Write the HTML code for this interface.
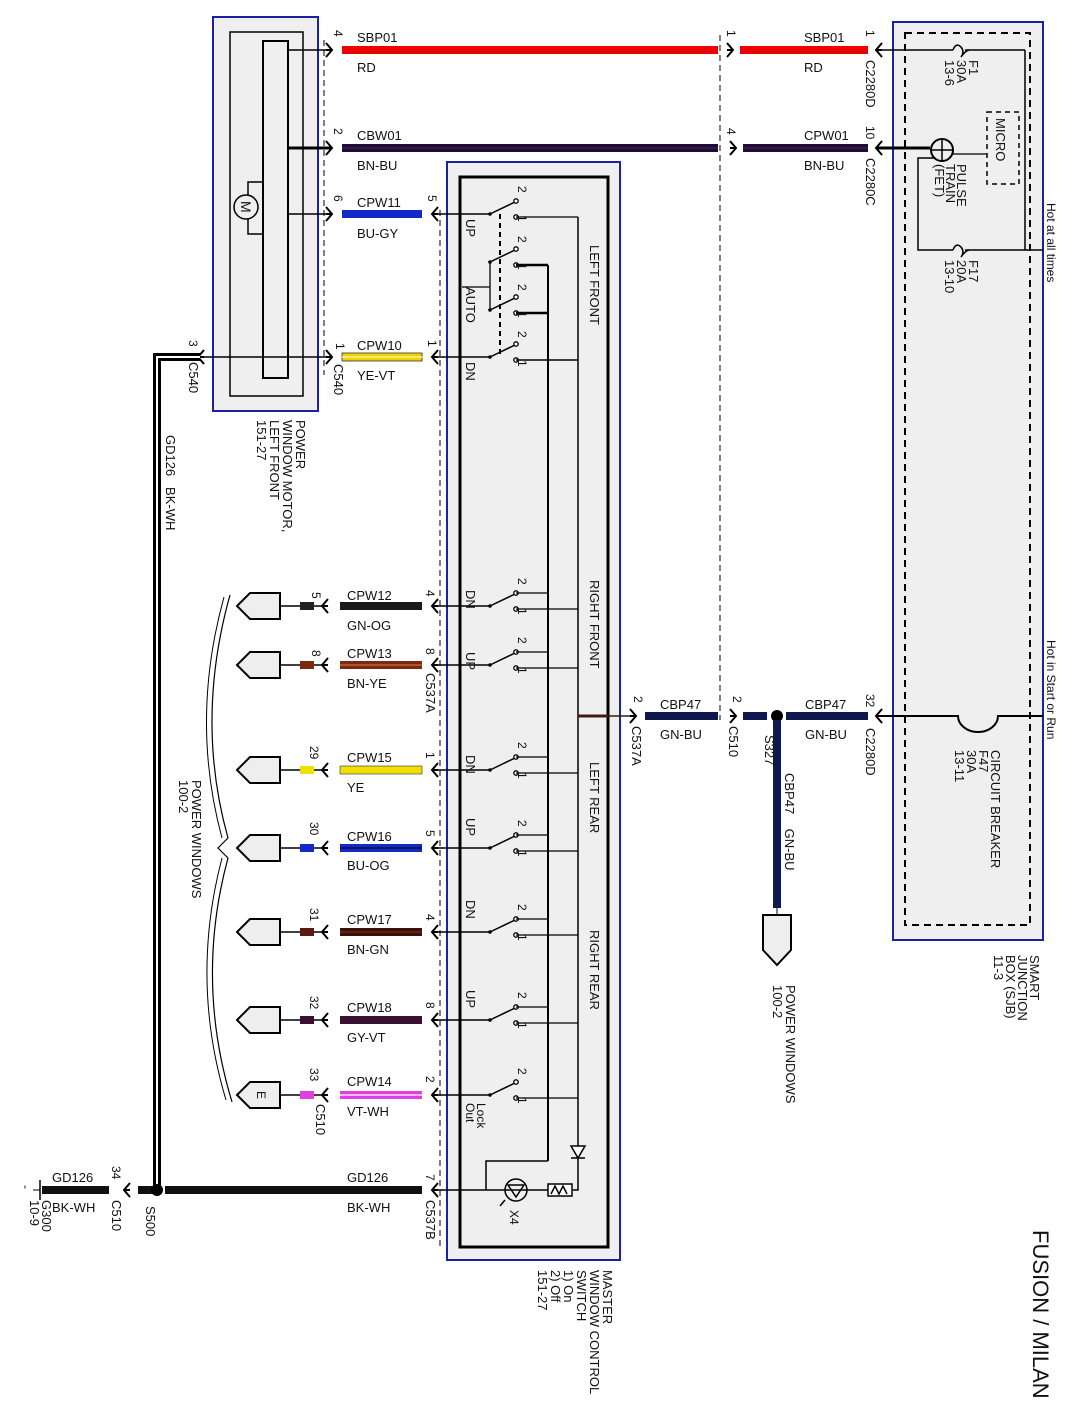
<!DOCTYPE html>
<html><head><meta charset="utf-8"><style>
html,body{margin:0;padding:0;background:#fff}
svg{display:block}
text{font-family:"Liberation Sans",sans-serif;font-size:13px;fill:#111}
.s{font-size:12px}
.m{font-size:13px}
</style></head><body>
<svg width="1075" height="1427" viewBox="0 0 1075 1427" xmlns="http://www.w3.org/2000/svg">
<defs>
<path id="ar" d="M-6,-7 L0,0 L-6,7 M-6,0 L0,0" fill="none" stroke="#000" stroke-width="2"/>
<path id="al" d="M6,-7 L0,0 L6,7 M6,0 L0,0" fill="none" stroke="#000" stroke-width="2"/>
<g id="sw">
<line x1="0" y1="0" x2="25" y2="-12" stroke="#000" stroke-width="1.5"/>
<circle cx="0" cy="0" r="1.8" fill="#000"/>
<circle cx="26" cy="-13" r="2.2" fill="#fff" stroke="#000" stroke-width="1.3"/>
<circle cx="26" cy="3" r="2.2" fill="#fff" stroke="#000" stroke-width="1.3"/>
</g>
<path id="pent" d="M0,0 L13,-13 L43,-13 L43,13 L13,13 Z" fill="#eee" stroke="#000" stroke-width="2"/>
</defs>

<!-- Motor block -->
<rect x="213" y="17" width="105" height="394" fill="#efefef" stroke="#1a22a0" stroke-width="2"/>
<rect x="230" y="32" width="73" height="364" fill="none" stroke="#000" stroke-width="1.5"/>
<rect x="263" y="41" width="25" height="337" fill="#efefef" stroke="#000" stroke-width="2"/>
<path d="M263,182 L248,182 L248,234 L263,234" fill="none" stroke="#000" stroke-width="1.5"/>
<circle cx="246" cy="207" r="12" fill="#efefef" stroke="#000" stroke-width="1.5"/>
<text transform="translate(241,201) rotate(90)" style="font-size:14px">M</text>

<!-- SJB -->
<rect x="893" y="22" width="150" height="918" fill="#efefef" stroke="#1a22a0" stroke-width="2"/>
<rect x="905" y="33" width="125" height="892" fill="none" stroke="#000" stroke-width="2" stroke-dasharray="7,5"/>
<rect x="987" y="112" width="32" height="72" fill="none" stroke="#000" stroke-width="1.5" stroke-dasharray="5,4"/>
<text transform="translate(996,118) rotate(90)">MICRO</text>

<!-- dashed connector lines -->
<line x1="324" y1="40" x2="324" y2="375" stroke="#000" stroke-dasharray="6,4"/>
<line x1="720" y1="35" x2="720" y2="720" stroke="#000" stroke-dasharray="6,4"/>
<line x1="440" y1="210" x2="440" y2="1250" stroke="#000" stroke-dasharray="6,4"/>

<!-- Switch block -->
<rect x="447" y="162" width="173" height="1098" fill="#efefef" stroke="#1a22a0" stroke-width="2"/>
<rect x="460" y="177" width="148" height="1070" fill="none" stroke="#000" stroke-width="3"/>

<!-- top wires -->
<line x1="288" y1="50" x2="330" y2="50" stroke="#000" stroke-width="1.5"/>
<use href="#ar" x="332" y="50"/>
<rect x="342" y="46" width="376" height="8" fill="#e00"/>
<use href="#ar" x="733" y="50"/>
<rect x="740" y="46" width="128" height="8" fill="#e00"/>
<use href="#al" x="876" y="50"/>
<line x1="876" y1="50" x2="953" y2="50" stroke="#000" stroke-width="1.5"/>
<path d="M953,50 q3,-8 8,-3 q4,5 0,10 q4,-6 8,-7" fill="none" stroke="#000" stroke-width="1.5"/>
<line x1="965" y1="50" x2="1025" y2="50" stroke="#000" stroke-width="1.5"/>
<line x1="1025" y1="50" x2="1025" y2="250" stroke="#000" stroke-width="1.5"/>

<line x1="288" y1="148" x2="330" y2="148" stroke="#000" stroke-width="3"/>
<use href="#ar" x="332" y="148"/>
<rect x="342" y="144" width="376" height="8" fill="#1a0f3a"/>
<line x1="342" y1="148" x2="718" y2="148" stroke="#6a2040" stroke-width="1"/>
<use href="#ar" x="736" y="148"/>
<rect x="743" y="144" width="125" height="8" fill="#1a0f3a"/>
<line x1="743" y1="148" x2="868" y2="148" stroke="#6a2040" stroke-width="1"/>
<use href="#al" x="876" y="148"/>
<line x1="876" y1="148" x2="930" y2="148" stroke="#000" stroke-width="3"/>
<circle cx="942" cy="150" r="11" fill="#efefef" stroke="#000" stroke-width="2"/>
<line x1="931" y1="150" x2="953" y2="150" stroke="#000" stroke-width="1.5"/>
<line x1="942" y1="140" x2="942" y2="160" stroke="#000" stroke-width="1.5"/>
<line x1="953" y1="154" x2="987" y2="154" stroke="#000" stroke-width="1.2"/>
<path d="M935,158 L918,158 L918,250 L953,250" fill="none" stroke="#000" stroke-width="1.5"/>
<path d="M953,250 q3,-8 8,-3 q4,5 0,10 q4,-6 8,-7" fill="none" stroke="#000" stroke-width="1.5"/>
<line x1="965" y1="250" x2="1043" y2="250" stroke="#000" stroke-width="1.5"/>
<text transform="translate(969,60) rotate(90)" class="m"><tspan x="0" dy="0">F1</tspan><tspan x="0" dy="12">30A</tspan><tspan x="0" dy="12">13-6</tspan></text>
<text transform="translate(957,164) rotate(90)" class="m"><tspan x="0" dy="0">PULSE</tspan><tspan x="0" dy="11">TRAIN</tspan><tspan x="0" dy="11">(FET)</tspan></text>
<text transform="translate(969,260) rotate(90)" class="m"><tspan x="0" dy="0">F17</tspan><tspan x="0" dy="12">20A</tspan><tspan x="0" dy="12">13-10</tspan></text>
<text transform="translate(1047,203) rotate(90)" class="s">Hot at all times</text>

<!-- CPW11 -->
<line x1="288" y1="214" x2="330" y2="214" stroke="#000" stroke-width="1.5"/>
<use href="#ar" x="332" y="214"/>
<rect x="342" y="210" width="80" height="8" fill="#1428c8"/>
<use href="#al" x="432" y="214"/>
<line x1="432" y1="214" x2="490" y2="214" stroke="#000" stroke-width="1.5"/>
<!-- CPW10 -->
<line x1="157" y1="357" x2="330" y2="357" stroke="#000" stroke-width="1.5"/>
<use href="#ar" x="332" y="357"/>
<rect x="342" y="353" width="80" height="8" fill="#f0d000" stroke="#333" stroke-width="0.8"/>
<line x1="342" y1="357" x2="422" y2="357" stroke="#fff3a0" stroke-width="1.5"/>
<use href="#al" x="432" y="357"/>
<line x1="432" y1="357" x2="490" y2="357" stroke="#000" stroke-width="1.5"/>
<use href="#al" x="198" y="357"/>

<!-- top labels -->
<text x="357" y="42">SBP01</text><text x="357" y="72">RD</text>
<text x="804" y="42">SBP01</text><text x="804" y="72">RD</text>
<text x="357" y="140">CBW01</text><text x="357" y="170">BN-BU</text>
<text x="804" y="140">CPW01</text><text x="804" y="170">BN-BU</text>
<text x="357" y="207">CPW11</text><text x="357" y="238">BU-GY</text>
<text x="357" y="350">CPW10</text><text x="357" y="380">YE-VT</text>
<text transform="translate(334,30) rotate(90)" class="s">4</text>
<text transform="translate(727,30) rotate(90)" class="s">1</text>
<text transform="translate(866,30) rotate(90)" class="s">1</text>
<text transform="translate(334,128) rotate(90)" class="s">2</text>
<text transform="translate(727,128) rotate(90)" class="s">4</text>
<text transform="translate(866,126) rotate(90)" class="s">10</text>
<text transform="translate(334,195) rotate(90)" class="s">6</text>
<text transform="translate(428,195) rotate(90)" class="s">5</text>
<text transform="translate(336,343) rotate(90)" class="s">1</text>
<text transform="translate(428,340) rotate(90)" class="s">1</text>
<text transform="translate(189,340) rotate(90)" class="s">3</text>
<text transform="translate(866,60) rotate(90)">C2280D</text>
<text transform="translate(866,158) rotate(90)">C2280C</text>
<text transform="translate(334,364) rotate(90)">C540</text>
<text transform="translate(189,362) rotate(90)">C540</text>
<text transform="translate(296,420) rotate(90)" class="m"><tspan x="0" dy="0">POWER</tspan><tspan x="0" dy="13">WINDOW MOTOR,</tspan><tspan x="0" dy="13">LEFT FRONT</tspan><tspan x="0" dy="13">151-27</tspan></text>
<text transform="translate(166,435) rotate(90)" class="m">GD126&#160;&#160;&#160;BK-WH</text>

<!-- ground vertical double wire -->
<path d="M200,357 L157,357 L157,1190" fill="none" stroke="#000" stroke-width="8"/>
<path d="M200,357 L157,357 L157,1190" fill="none" stroke="#fff" stroke-width="2"/>

<!-- Left front switch internals -->
<use href="#sw" x="490" y="214"/>
<use href="#sw" x="490" y="262"/>
<use href="#sw" x="490" y="310"/>
<use href="#sw" x="490" y="357"/>
<line x1="516" y1="217" x2="578" y2="217" stroke="#000" stroke-width="1.3"/>
<line x1="578" y1="217" x2="578" y2="1152" stroke="#000" stroke-width="1.5"/>
<line x1="516" y1="265" x2="548" y2="265" stroke="#000" stroke-width="2.5"/>
<line x1="516" y1="313" x2="548" y2="313" stroke="#000" stroke-width="2.5"/>
<line x1="548" y1="265" x2="548" y2="1161" stroke="#000" stroke-width="2"/>
<line x1="516" y1="360" x2="578" y2="360" stroke="#000" stroke-width="1.5"/>
<line x1="500" y1="214" x2="500" y2="357" stroke="#000" stroke-width="2" stroke-dasharray="5,4"/>
<path d="M490,262 L490,310 M462,287 L490,287" stroke="#000" stroke-width="1.3"/>
<text transform="translate(466,219) rotate(90)">UP</text>
<text transform="translate(466,287) rotate(90)">AUTO</text>
<text transform="translate(466,362) rotate(90)">DN</text>
<text transform="translate(518,186) rotate(90)" class="s">2</text><text transform="translate(518,215) rotate(90)" class="s">1</text>
<text transform="translate(518,236) rotate(90)" class="s">2</text><text transform="translate(518,263) rotate(90)" class="s">1</text>
<text transform="translate(518,284) rotate(90)" class="s">2</text><text transform="translate(518,311) rotate(90)" class="s">1</text>
<text transform="translate(518,331) rotate(90)" class="s">2</text><text transform="translate(518,360) rotate(90)" class="s">1</text>
<text transform="translate(590,245) rotate(90)">LEFT FRONT</text>
<text transform="translate(590,580) rotate(90)">RIGHT FRONT</text>
<text transform="translate(590,762) rotate(90)">LEFT REAR</text>
<text transform="translate(590,930) rotate(90)">RIGHT REAR</text>
<line x1="578" y1="716" x2="608" y2="716" stroke="#4a1a10" stroke-width="3"/>

<!-- CPW12 606 -->
<g>
<use href="#pent" x="237" y="606"/><line x1="280" y1="606" x2="322" y2="606" stroke="#000" stroke-width="1.5"/>
<rect x="300" y="602" width="14" height="8" fill="#222"/><use href="#al" x="322" y="606"/>
<rect x="340" y="602" width="82" height="8" fill="#1a1a1a"/><use href="#al" x="432" y="606"/>
<line x1="432" y1="606" x2="490" y2="606" stroke="#000" stroke-width="1.5"/>
<use href="#sw" x="490" y="606"/>
<text x="347" y="600">CPW12</text><text x="347" y="630">GN-OG</text>
<text transform="translate(312,592) rotate(90)" class="s">5</text><text transform="translate(426,590) rotate(90)" class="s">4</text>
<text transform="translate(466,590) rotate(90)">DN</text>
</g>
<!-- CPW13 665 -->
<g>
<use href="#pent" x="237" y="665"/><line x1="280" y1="665" x2="322" y2="665" stroke="#000" stroke-width="1.5"/>
<rect x="300" y="661" width="14" height="8" fill="#7a2a10"/><use href="#al" x="322" y="665"/>
<rect x="340" y="661" width="82" height="8" fill="#7a2a10"/><line x1="340" y1="665" x2="422" y2="665" stroke="#e08040" stroke-width="1"/><use href="#al" x="432" y="665"/>
<line x1="432" y1="665" x2="490" y2="665" stroke="#000" stroke-width="1.5"/>
<use href="#sw" x="490" y="665"/>
<text x="347" y="658">CPW13</text><text x="347" y="688">BN-YE</text>
<text transform="translate(312,650) rotate(90)" class="s">8</text><text transform="translate(426,648) rotate(90)" class="s">8</text>
<text transform="translate(426,673) rotate(90)">C537A</text>
<text transform="translate(466,652) rotate(90)">UP</text>
</g>
<!-- CPW15 770 -->
<g>
<use href="#pent" x="237" y="770"/><line x1="280" y1="770" x2="322" y2="770" stroke="#000" stroke-width="1.5"/>
<rect x="300" y="766" width="14" height="8" fill="#f0e000"/><use href="#al" x="322" y="770"/>
<rect x="340" y="766" width="82" height="8" fill="#f0e000" stroke="#333" stroke-width="0.6"/><use href="#al" x="432" y="770"/>
<line x1="432" y1="770" x2="490" y2="770" stroke="#000" stroke-width="1.5"/>
<use href="#sw" x="490" y="770"/>
<text x="347" y="762">CPW15</text><text x="347" y="792">YE</text>
<text transform="translate(310,746) rotate(90)" class="s">29</text><text transform="translate(426,752) rotate(90)" class="s">1</text>
<text transform="translate(466,755) rotate(90)">DN</text>
</g>
<!-- CPW16 848 -->
<g>
<use href="#pent" x="237" y="848"/><line x1="280" y1="848" x2="322" y2="848" stroke="#000" stroke-width="1.5"/>
<rect x="300" y="844" width="14" height="8" fill="#1428c8"/><use href="#al" x="322" y="848"/>
<rect x="340" y="844" width="82" height="8" fill="#1428c8"/><line x1="340" y1="848" x2="422" y2="848" stroke="#000" stroke-width="1"/><use href="#al" x="432" y="848"/>
<line x1="432" y1="848" x2="490" y2="848" stroke="#000" stroke-width="1.5"/>
<use href="#sw" x="490" y="848"/>
<text x="347" y="841">CPW16</text><text x="347" y="870">BU-OG</text>
<text transform="translate(310,822) rotate(90)" class="s">30</text><text transform="translate(426,830) rotate(90)" class="s">5</text>
<text transform="translate(466,818) rotate(90)">UP</text>
</g>
<!-- CPW17 932 -->
<g>
<use href="#pent" x="237" y="932"/><line x1="280" y1="932" x2="322" y2="932" stroke="#000" stroke-width="1.5"/>
<rect x="300" y="928" width="14" height="8" fill="#5a1a10"/><use href="#al" x="322" y="932"/>
<rect x="340" y="928" width="82" height="8" fill="#3a1208"/><line x1="340" y1="932" x2="422" y2="932" stroke="#8a3020" stroke-width="1"/><use href="#al" x="432" y="932"/>
<line x1="432" y1="932" x2="490" y2="932" stroke="#000" stroke-width="1.5"/>
<use href="#sw" x="490" y="932"/>
<text x="347" y="924">CPW17</text><text x="347" y="954">BN-GN</text>
<text transform="translate(310,908) rotate(90)" class="s">31</text><text transform="translate(426,914) rotate(90)" class="s">4</text>
<text transform="translate(466,900) rotate(90)">DN</text>
</g>
<!-- CPW18 1020 -->
<g>
<use href="#pent" x="237" y="1020"/><line x1="280" y1="1020" x2="322" y2="1020" stroke="#000" stroke-width="1.5"/>
<rect x="300" y="1016" width="14" height="8" fill="#3a1030"/><use href="#al" x="322" y="1020"/>
<rect x="340" y="1016" width="82" height="8" fill="#3a1030"/><use href="#al" x="432" y="1020"/>
<line x1="432" y1="1020" x2="490" y2="1020" stroke="#000" stroke-width="1.5"/>
<use href="#sw" x="490" y="1020"/>
<text x="347" y="1012">CPW18</text><text x="347" y="1042">GY-VT</text>
<text transform="translate(310,996) rotate(90)" class="s">32</text><text transform="translate(426,1002) rotate(90)" class="s">8</text>
<text transform="translate(466,990) rotate(90)">UP</text>
</g>
<!-- CPW14 1095 -->
<g>
<use href="#pent" x="237" y="1095"/><text transform="translate(257,1091) rotate(90)" class="s">E</text>
<line x1="280" y1="1095" x2="322" y2="1095" stroke="#000" stroke-width="1.5"/>
<rect x="300" y="1091" width="14" height="8" fill="#e040e0"/><use href="#al" x="322" y="1095"/>
<rect x="340" y="1091" width="82" height="8" fill="#e040e0"/><line x1="340" y1="1095" x2="422" y2="1095" stroke="#fff" stroke-width="1.2"/><use href="#al" x="432" y="1095"/>
<line x1="432" y1="1095" x2="490" y2="1095" stroke="#000" stroke-width="1.5"/>
<use href="#sw" x="490" y="1095"/>
<text x="347" y="1086">CPW14</text><text x="347" y="1116">VT-WH</text>
<text transform="translate(310,1068) rotate(90)" class="s">33</text><text transform="translate(426,1076) rotate(90)" class="s">2</text>
<text transform="translate(316,1104) rotate(90)">C510</text>
<text transform="translate(477,1103) rotate(90)" class="s"><tspan x="0" dy="0">Lock</tspan><tspan x="0" dy="11">Out</tspan></text>
</g>
<g stroke="#000" stroke-width="1.3" fill="none">
<path d="M516,593 H548 M516,609 H578 M516,652 H548 M516,668 H578 M516,757 H548 M516,773 H578 M516,835 H548 M516,851 H578 M516,919 H548 M516,935 H578 M516,1007 H548 M516,1023 H578 M516,1098 H578"/>
</g>
<text transform="translate(518,578) rotate(90)" class="s">2</text><text transform="translate(518,608) rotate(90)" class="s">1</text>
<text transform="translate(518,637) rotate(90)" class="s">2</text><text transform="translate(518,667) rotate(90)" class="s">1</text>
<text transform="translate(518,742) rotate(90)" class="s">2</text><text transform="translate(518,772) rotate(90)" class="s">1</text>
<text transform="translate(518,820) rotate(90)" class="s">2</text><text transform="translate(518,850) rotate(90)" class="s">1</text>
<text transform="translate(518,904) rotate(90)" class="s">2</text><text transform="translate(518,934) rotate(90)" class="s">1</text>
<text transform="translate(518,992) rotate(90)" class="s">2</text><text transform="translate(518,1022) rotate(90)" class="s">1</text>
<text transform="translate(518,1068) rotate(90)" class="s">2</text><text transform="translate(518,1097) rotate(90)" class="s">1</text>

<!-- brace -->
<path d="M230,595 Q195,720 228,838 L218,848 L228,858 Q195,980 232,1102" fill="none" stroke="#000" stroke-width="1.2"/>
<path d="M224,597 Q190,720 222,838 M222,858 Q190,980 226,1100" fill="none" stroke="#000" stroke-width="1"/>
<text transform="translate(192,780) rotate(90)" class="m"><tspan x="0" dy="0">POWER WINDOWS</tspan><tspan x="0" dy="13">100-2</tspan></text>

<!-- bottom internals -->
<g stroke="#000" stroke-width="1.5" fill="none">
<path d="M548,1161 H486 V1190"/>
<path d="M578,1152 V1190 H573"/>
<path d="M571,1146 H585 L578,1158 Z" fill="#fff"/>
<line x1="571" y1="1158" x2="585" y2="1158"/>
<rect x="548" y="1184" width="24" height="12" fill="#fff"/>
<path d="M551,1194 L555,1186 L559,1194 L563,1186 L567,1194"/>
<circle cx="516" cy="1190" r="11" fill="#efefef"/>
<path d="M508,1185 L524,1185 L516,1197 Z"/>
<path d="M505,1200 L500,1206"/>
</g>
<line x1="432" y1="1190" x2="548" y2="1190" stroke="#000" stroke-width="1.5"/>
<text transform="translate(510,1210) rotate(90)" class="s">X4</text>

<!-- GD126 bottom -->
<rect x="165" y="1186" width="257" height="8" fill="#111"/>
<use href="#al" x="432" y="1190"/>
<rect x="138" y="1186" width="15" height="8" fill="#111"/>
<circle cx="157" cy="1190" r="6" fill="#000"/>
<use href="#al" x="124" y="1190"/>
<rect x="42" y="1186" width="67" height="8" fill="#111"/>
<line x1="40" y1="1180" x2="40" y2="1200" stroke="#000" stroke-width="1.5"/>
<line x1="33" y1="1190" x2="40" y2="1190" stroke="#000"/>
<text x="52" y="1182">GD126</text><text x="52" y="1212">BK-WH</text>
<text x="347" y="1182">GD126</text><text x="347" y="1212">BK-WH</text>
<text transform="translate(426,1174) rotate(90)" class="s">7</text>
<text transform="translate(112,1166) rotate(90)" class="s">34</text>
<text transform="translate(426,1200) rotate(90)">C537B</text>
<text transform="translate(112,1200) rotate(90)">C510</text>
<text transform="translate(146,1206) rotate(90)">S500</text>
<text transform="translate(42,1200) rotate(90)" class="m"><tspan x="0" dy="0">G300</tspan><tspan x="0" dy="12">10-9</tspan></text>
<text transform="translate(22,1185) rotate(90)" class="s">-</text>
<text transform="translate(603,1270) rotate(90)" class="m"><tspan x="0" dy="0">MASTER</tspan><tspan x="0" dy="13">WINDOW CONTROL</tspan><tspan x="0" dy="13">SWITCH</tspan><tspan x="0" dy="13">1) On</tspan><tspan x="0" dy="13">2) Off</tspan><tspan x="0" dy="13">151-27</tspan></text>

<!-- CBP47 -->
<line x1="578" y1="716" x2="630" y2="716" stroke="#3a1a10" stroke-width="1.5"/>
<use href="#ar" x="636" y="716"/>
<rect x="645" y="712" width="73" height="8" fill="#101850"/>
<use href="#ar" x="736" y="716"/>
<rect x="743" y="712" width="24" height="8" fill="#101850"/>
<circle cx="777" cy="716" r="6" fill="#000"/>
<rect x="786" y="712" width="82" height="8" fill="#101850"/>
<use href="#al" x="876" y="716"/>
<path d="M876,716 H958 A20,16 0 0 0 998,716 H1043" fill="none" stroke="#000" stroke-width="2"/>
<rect x="773" y="720" width="8" height="188" fill="#101850"/>
<line x1="777" y1="908" x2="777" y2="915" stroke="#000"/>
<path d="M763,915 L791,915 L791,950 L777,965 L763,950 Z" fill="#eee" stroke="#000" stroke-width="2"/>
<text x="660" y="709">CBP47</text><text x="660" y="739">GN-BU</text>
<text x="805" y="709">CBP47</text><text x="805" y="739">GN-BU</text>
<text transform="translate(634,696) rotate(90)" class="s">2</text>
<text transform="translate(733,696) rotate(90)" class="s">2</text>
<text transform="translate(866,694) rotate(90)" class="s">32</text>
<text transform="translate(632,726) rotate(90)">C537A</text>
<text transform="translate(729,726) rotate(90)">C510</text>
<text transform="translate(765,735) rotate(90)">S327</text>
<text transform="translate(866,728) rotate(90)">C2280D</text>
<text transform="translate(785,773) rotate(90)">CBP47&#160;&#160;&#160;&#160;GN-BU</text>
<text transform="translate(786,985) rotate(90)" class="m"><tspan x="0" dy="0">POWER WINDOWS</tspan><tspan x="0" dy="13">100-2</tspan></text>
<text transform="translate(991,750) rotate(90)" class="m"><tspan x="0" dy="0">CIRCUIT BREAKER</tspan><tspan x="0" dy="12">F47</tspan><tspan x="0" dy="12">30A</tspan><tspan x="0" dy="12">13-11</tspan></text>
<text transform="translate(1047,640) rotate(90)" class="s">Hot in Start or Run</text>
<text transform="translate(1030,955) rotate(90)" class="m"><tspan x="0" dy="0">SMART</tspan><tspan x="0" dy="12">JUNCTION</tspan><tspan x="0" dy="12">BOX (SJB)</tspan><tspan x="0" dy="12">11-3</tspan></text>
<text transform="translate(1033,1230) rotate(90)" style="font-size:22px">FUSION / MILAN</text>
</svg>
</body></html>
